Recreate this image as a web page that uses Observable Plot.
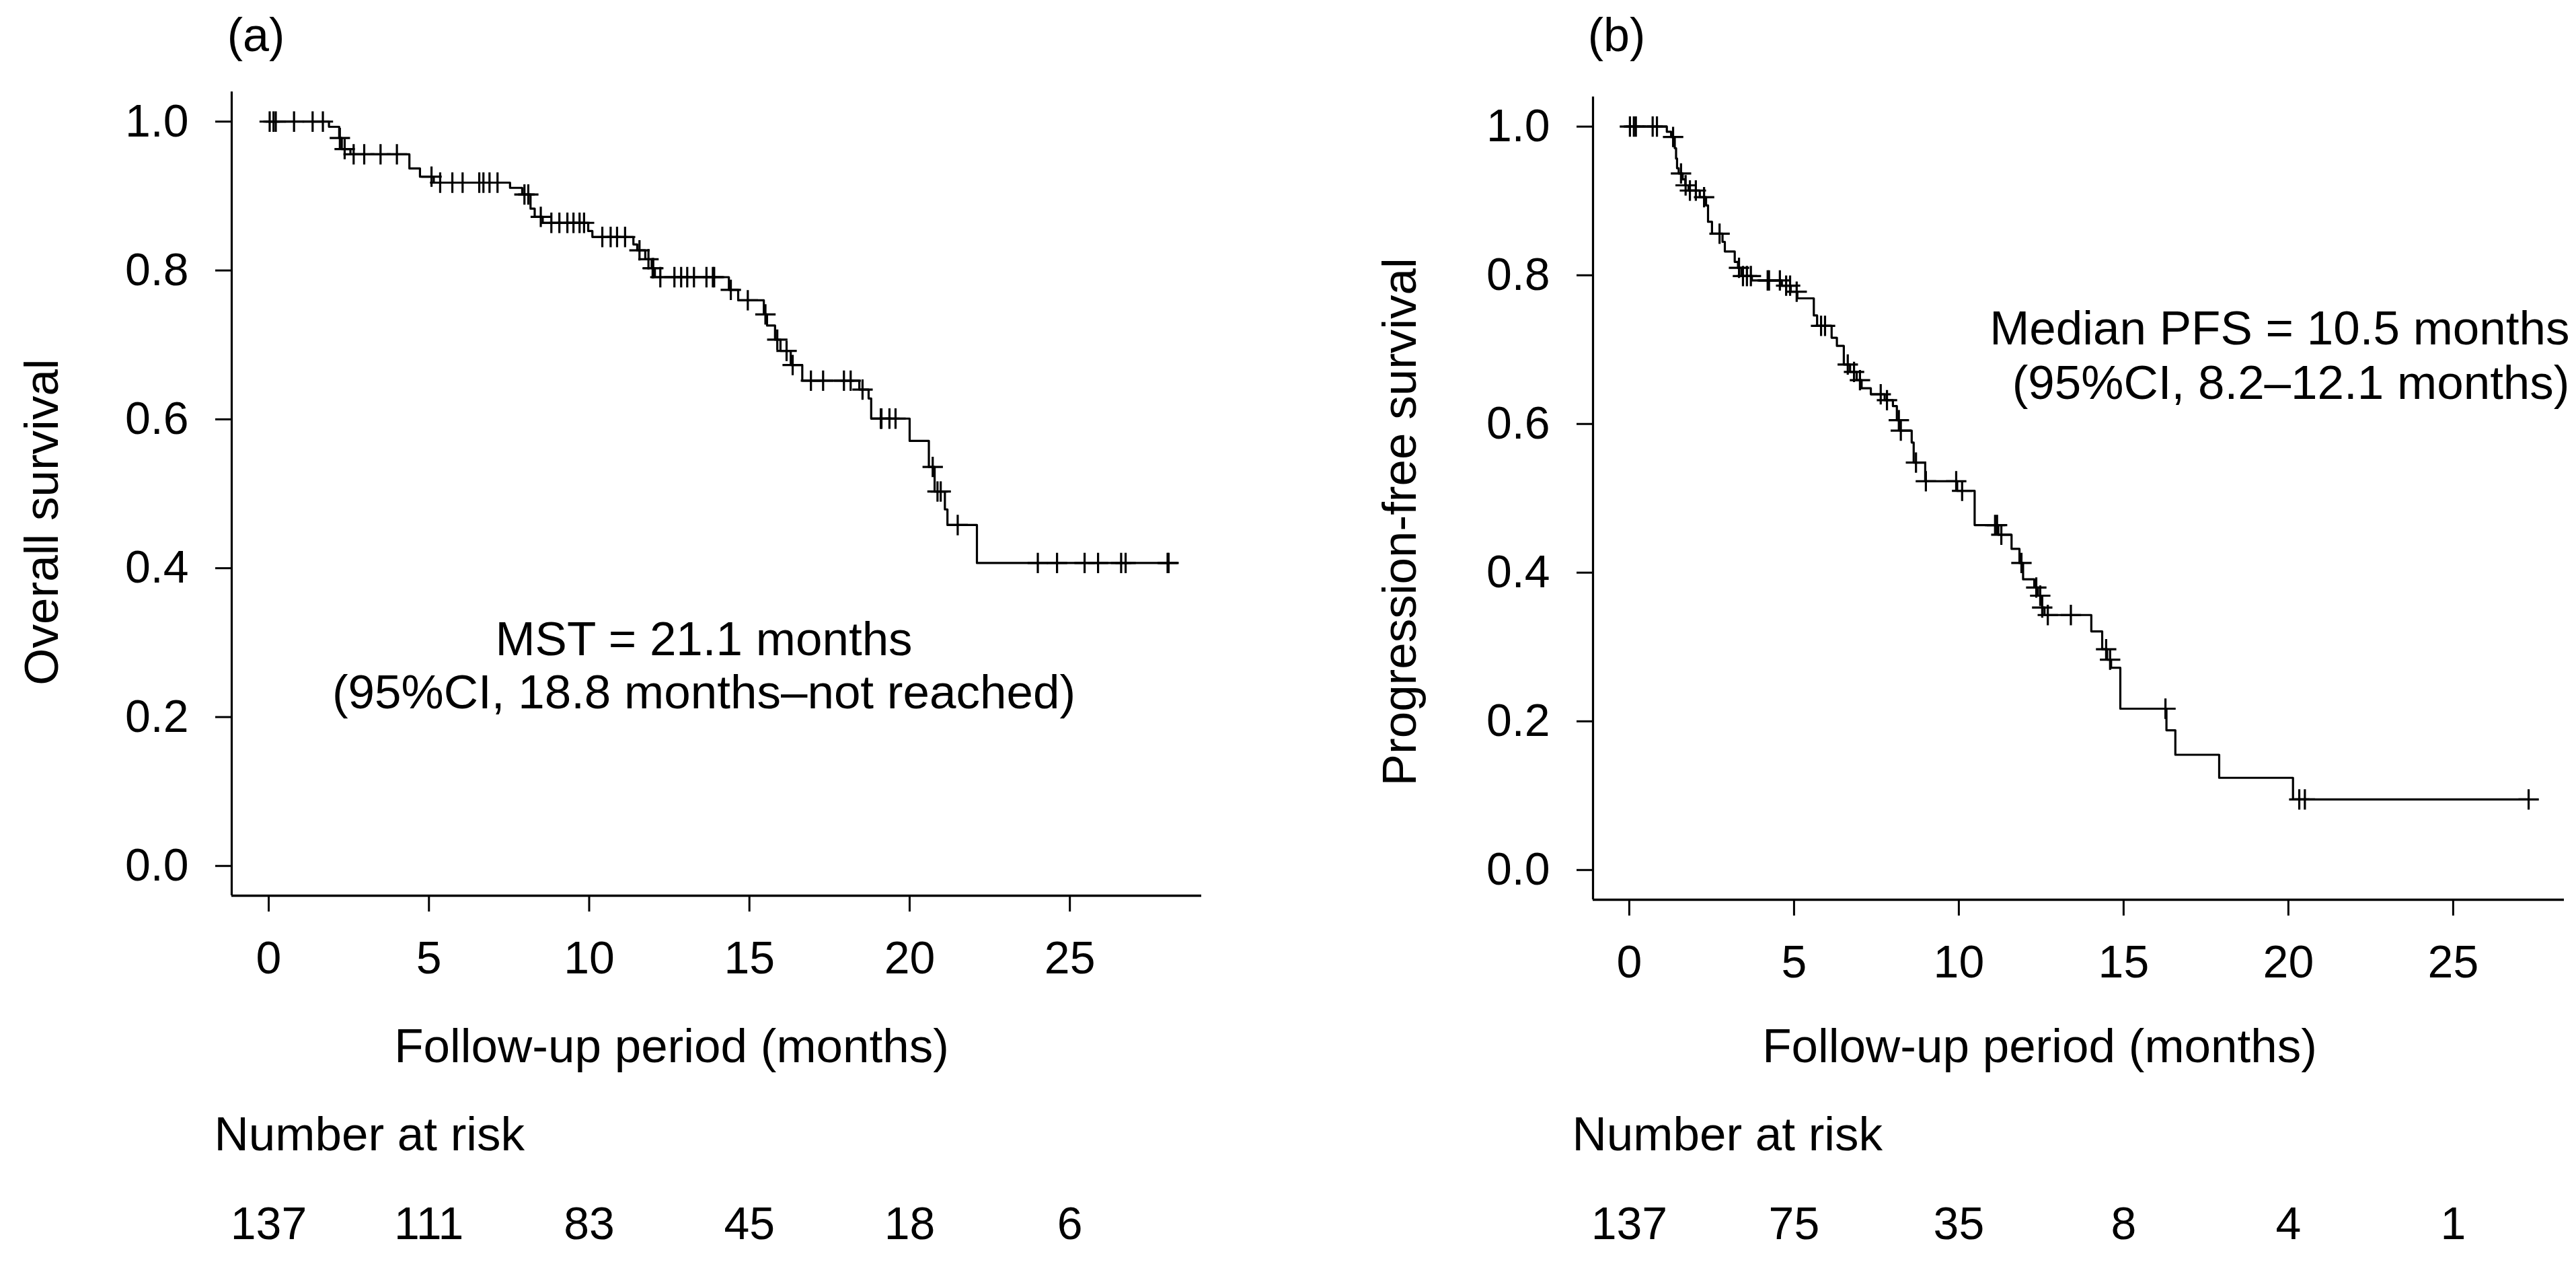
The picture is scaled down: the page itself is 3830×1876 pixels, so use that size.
<!DOCTYPE html>
<html><head><meta charset="utf-8">
<script src="https://cdn.jsdelivr.net/npm/d3@7"></script>
<script src="https://cdn.jsdelivr.net/npm/@observablehq/plot@0.6"></script>
<style>
html,body{margin:0;padding:0;background:#fff;}
#wrap{display:flex;width:3830px;height:1876px;overflow:hidden;background:#fff;}
#wrap svg{display:block;flex:none;}
</style></head><body><div id="wrap"></div>
<script>
// ---------- Panel (a): overall survival ----------
const osTimes = [0, 1.88, 2.2, 2.28, 2.55, 4.39, 4.72, 5.15, 7.53, 7.91, 8.17, 8.3, 8.55, 9.97, 10.1, 11.38, 11.5, 11.75, 11.95, 12.05, 14.36, 14.65, 15.45, 15.55, 15.8, 15.97, 16.29, 16.65, 18.43, 18.72, 18.8, 20.0, 20.6, 20.78, 21.1, 21.18, 22.1, 28.1];
const osSurv  = [1, 0.993, 0.978, 0.963, 0.956, 0.937, 0.926, 0.918, 0.911, 0.902, 0.883, 0.872, 0.864, 0.853, 0.845, 0.835, 0.827, 0.815, 0.803, 0.791, 0.774, 0.760, 0.741, 0.726, 0.707, 0.692, 0.673, 0.652, 0.640, 0.628, 0.601, 0.571, 0.536, 0.503, 0.479, 0.458, 0.407, 0.407];
const osCensored = [0.03, 0.15, 0.22, 0.79, 1.37, 1.69, 2.22, 2.37, 2.65, 2.98, 3.49, 4.0, 5.08, 5.35, 5.73, 6.05, 6.57, 6.7, 6.89, 7.14, 7.98, 8.1, 8.49, 8.82, 9.07, 9.32, 9.51, 9.7, 9.84, 10.41, 10.67, 10.87, 11.12, 11.57, 11.85, 11.98, 12.0, 12.22, 12.66, 12.87, 13.06, 13.27, 13.66, 13.86, 13.9, 14.42, 14.95, 15.5, 15.87, 16.16, 16.35, 16.92, 17.3, 17.95, 18.16, 18.53, 19.1, 19.12, 19.37, 19.56, 20.72, 20.87, 20.97, 21.5, 24.0, 24.6, 25.46, 25.88, 26.6, 26.74, 28.05, 28.08];
const osRisk = [137, 111, 83, 45, 18, 6];

// ---------- Panel (b): progression-free survival ----------
const pfsTimes = [0, 1.14, 1.27, 1.38, 1.42, 1.45, 1.5, 1.62, 1.7, 1.8, 2.14, 2.33, 2.39, 2.51, 2.83, 2.9, 3.2, 3.3, 3.4, 3.72, 4.63, 4.9, 5.1, 5.6, 5.7, 6.14, 6.3, 6.51, 6.7, 6.9, 7.05, 7.33, 7.75, 8.0, 8.12, 8.22, 8.57, 8.63, 8.98, 9.95, 10.48, 11.2, 11.6, 11.84, 11.95, 12.29, 12.4, 12.53, 12.6, 14.02, 14.35, 14.5, 14.62, 14.9, 16.3, 16.57, 17.9, 20.14, 27.3];
const pfsSurv  = [1, 0.993, 0.986, 0.971, 0.957, 0.944, 0.937, 0.929, 0.921, 0.914, 0.905, 0.894, 0.872, 0.856, 0.845, 0.832, 0.818, 0.810, 0.799, 0.793, 0.786, 0.778, 0.769, 0.746, 0.732, 0.716, 0.705, 0.680, 0.670, 0.659, 0.648, 0.640, 0.632, 0.624, 0.605, 0.591, 0.575, 0.548, 0.523, 0.510, 0.464, 0.451, 0.432, 0.413, 0.391, 0.380, 0.369, 0.353, 0.343, 0.321, 0.297, 0.283, 0.272, 0.217, 0.188, 0.155, 0.124, 0.095, 0.095];
const pfsCensored = [0.02, 0.14, 0.2, 0.71, 0.84, 1.33, 1.57, 1.71, 1.84, 2.02, 2.27, 2.74, 3.33, 3.45, 3.57, 3.69, 4.2, 4.24, 4.57, 4.76, 4.88, 5.08, 5.82, 5.94, 6.63, 6.82, 7.0, 7.63, 7.82, 8.18, 8.24, 8.7, 9.0, 9.92, 10.1, 11.1, 11.16, 11.29, 11.9, 12.35, 12.47, 12.53, 12.7, 13.4, 14.47, 14.59, 16.27, 20.33, 20.5, 27.29];
const pfsRisk = [137, 75, 35, 8, 4, 1];

// ---------- shared ----------
const riskTimes = [0, 5, 10, 15, 20, 25];
const xTicks = [0, 5, 10, 15, 20, 25];
const yTicks = [0, 0.2, 0.4, 0.6, 0.8, 1.0];
const xTitle = "Follow-up period (months)";
const riskTitle = "Number at risk";

const FONT = "'Liberation Sans', Arial, Helvetica, sans-serif";

function panel(cfg) {
  const steps = cfg.times.map((t, i) => ({t, s: cfg.surv[i]}));
  const survAt = t => { let s = 1; for (const d of steps) { if (d.t <= t) s = d.s; else break; } return s; };
  const cens = cfg.censored.map(t => ({t, s: survAt(t)}));
  const risk = riskTimes.map((t, i) => ({t, n: cfg.risk[i]}));
  return Plot.plot({
    width: 1915, height: 1876,
    marginLeft: cfg.ml, marginRight: cfg.mr, marginTop: cfg.mt, marginBottom: cfg.mb,
    x: {domain: cfg.xdom, label: null},
    y: {domain: [-0.04, 1.04], label: null},
    style: {fontFamily: FONT, fontSize: "68px", background: "white", color: "black"},
    marks: [
      Plot.ruleY([-0.04], {stroke: "black", strokeWidth: 3.4}),
      Plot.ruleX([cfg.xdom[0]], {stroke: "black", strokeWidth: 3.2}),
      Plot.axisX({ticks: xTicks, tickSize: 24, tickPadding: 43, tickFormat: d => String(d), fontSize: 68, strokeWidth: 3, label: null}),
      Plot.axisY({ticks: yTicks, tickSize: 24, tickPadding: 40, tickFormat: d3.format(".1f"), fontSize: 68, strokeWidth: 3, label: null}),
      Plot.line(steps, {x: "t", y: "s", curve: "step-after", stroke: "black", strokeWidth: 3.2}),
      Plot.dot(cens, {x: "t", y: "s", symbol: "plus", r: 9.8, stroke: "black", strokeWidth: 3.2}),
      Plot.text([cfg.label], {text: d => d, frameAnchor: "top-left", dx: cfg.labelDx, dy: cfg.labelDy, textAnchor: "middle", lineAnchor: "bottom", fontSize: 70}),
      Plot.text([cfg.yTitle], {text: d => d, frameAnchor: "left", dx: cfg.yTitleDx, dy: cfg.yTitleDy, rotate: -90, textAnchor: "middle", lineAnchor: "middle", fontSize: 71}),
      Plot.text([xTitle], {text: d => d, frameAnchor: "top-left", dx: cfg.xTitleDx, dy: cfg.xTitleDy, textAnchor: "middle", lineAnchor: "bottom", fontSize: 71}),
      Plot.text([riskTitle], {text: d => d, frameAnchor: "top-left", dx: cfg.riskTitleDx, dy: cfg.riskTitleDy, textAnchor: "start", lineAnchor: "bottom", fontSize: 71}),
      Plot.text(risk, {x: "t", text: d => String(d.n), frameAnchor: "top", dy: cfg.riskDy, textAnchor: "middle", lineAnchor: "bottom", fontSize: 68}),
      Plot.text([cfg.note], {text: d => d, frameAnchor: "top-left", dx: cfg.noteDx, dy: cfg.noteDy, textAnchor: cfg.noteAnchor, lineAnchor: "bottom", lineHeight: cfg.noteLH, fontSize: 71})
    ]
  });
}

const wrap = document.getElementById("wrap");
wrap.appendChild(panel({
  times: osTimes, surv: osSurv, censored: osCensored, risk: osRisk,
  xdom: [-1.155, 29.11], ml: 344, mr: 129, mt: 136, mb: 545,
  label: "(a)", labelDx: 36, labelDy: -61,
  yTitle: "Overall survival", yTitleDx: -281, yTitleDy: 42,
  xTitleDx: 654, xTitleDy: 1442,
  riskTitleDx: -26, riskTitleDy: 1573, riskDy: 1705,
  note: "MST = 21.1 months\n(95%CI, 18.8 months\u2013not reached)", noteDx: 702, noteDy: 916, noteAnchor: "middle", noteLH: 1.1
}));
wrap.appendChild(panel({
  times: pfsTimes, surv: pfsSurv, censored: pfsCensored, risk: pfsRisk,
  xdom: [-1.10, 28.37], ml: 453, mr: 18, mt: 143.5, mb: 539,
  label: "(b)", labelDx: 35, labelDy: -68.5,
  yTitle: "Progression-free survival", yTitleDx: -286, yTitleDy: 35,
  xTitleDx: 664, xTitleDy: 1434.5,
  riskTitleDx: -31, riskTitleDy: 1565.5, riskDy: 1697.5,
  note: "Median PFS = 10.5 months\n(95%CI, 8.2\u201312.1 months)", noteDx: 1452, noteDy: 448.5, noteAnchor: "end", noteLH: 1.14
}));
</script>
</body></html>
